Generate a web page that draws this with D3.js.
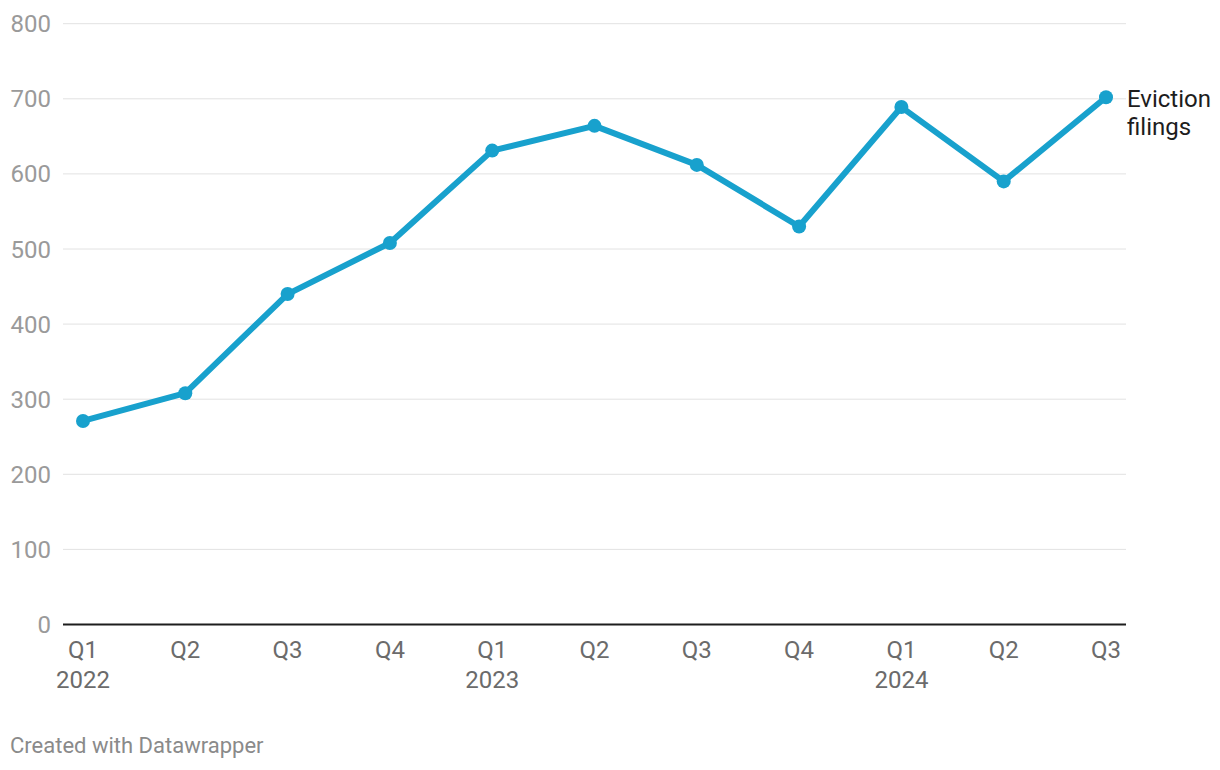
<!DOCTYPE html>
<html>
<head>
<meta charset="utf-8">
<script src="https://cdn.jsdelivr.net/npm/d3@7"></script>
<style>
  body { margin: 0; background: #fff; font-family: Roboto, sans-serif; }
</style>
</head>
<body>
<div id="chart"></div>
<script>
const quarters = ['Q1', 'Q2', 'Q3', 'Q4', 'Q1', 'Q2', 'Q3', 'Q4', 'Q1', 'Q2', 'Q3'];
const years = ['2022', '', '', '', '2023', '', '', '', '2024', '', ''];
const filings = [271, 308, 440, 508, 631, 664, 612, 530, 689, 590, 702];
const yTicks = [0, 100, 200, 300, 400, 500, 600, 700, 800];

const width = 1220;
const height = 770;
const margin = { top: 24, right: 114, bottom: 146, left: 83 };

const svg = d3.select('#chart')
  .append('svg')
  .attr('width', width)
  .attr('height', height);

const x = d3.scalePoint()
  .domain(d3.range(filings.length))
  .range([margin.left, width - margin.right]);

const y = d3.scaleLinear()
  .domain([0, 800])
  .range([height - margin.bottom + 0.5, margin.top - 0.3]);

// gridlines + y labels
const grid = svg.append('g');
grid.selectAll('line')
  .data(yTicks.filter(d => d > 0))
  .join('line')
    .attr('x1', 63)
    .attr('x2', 1126)
    .attr('y1', d => y(d))
    .attr('y2', d => y(d))
    .attr('stroke', '#e2e2e2')
    .attr('stroke-width', 1);

grid.selectAll('text')
  .data(yTicks)
  .join('text')
    .attr('x', 51)
    .attr('y', d => y(d) + 8.5)
    .attr('text-anchor', 'end')
    .attr('fill', '#9a9a9a')
    .attr('font-size', '24px')
    .text(d => d);

// baseline
svg.append('line')
  .attr('x1', 63)
  .attr('x2', 1126)
  .attr('y1', y(0))
  .attr('y2', y(0))
  .attr('stroke', '#1d1d1d')
  .attr('stroke-width', 2);

// x labels
const xl = svg.append('g')
  .attr('fill', '#6b6b6b')
  .attr('font-size', '24px')
  .attr('text-anchor', 'middle');

xl.selectAll('text.q')
  .data(quarters)
  .join('text')
    .attr('class', 'q')
    .attr('x', (d, i) => x(i))
    .attr('y', 658)
    .text(d => d);

xl.selectAll('text.yr')
  .data(years)
  .join('text')
    .attr('class', 'yr')
    .attr('x', (d, i) => x(i))
    .attr('y', 688)
    .text(d => d);

// line
const line = d3.line()
  .x((d, i) => x(i))
  .y(d => y(d));

svg.append('path')
  .datum(filings)
  .attr('fill', 'none')
  .attr('stroke', '#18a1cd')
  .attr('stroke-width', 6)
  .attr('stroke-linejoin', 'round')
  .attr('d', line);

svg.append('g')
  .attr('fill', '#18a1cd')
  .selectAll('circle')
  .data(filings)
  .join('circle')
    .attr('cx', (d, i) => x(i))
    .attr('cy', d => y(d))
    .attr('r', 7);

// series label
const last = filings.length - 1;
const lab = svg.append('text')
  .attr('x', x(last) + 21)
  .attr('y', y(filings[last]) + 9.5)
  .attr('fill', '#1d1d1d')
  .attr('font-size', '24px');
lab.append('tspan').text('Eviction');
lab.append('tspan').attr('x', x(last) + 21).attr('dy', 28).text('filings');

// footer
svg.append('text')
  .attr('x', 10)
  .attr('y', 753)
  .attr('fill', '#8a8a8a')
  .attr('font-size', '22px')
  .text('Created with Datawrapper');
</script>
</body>
</html>
